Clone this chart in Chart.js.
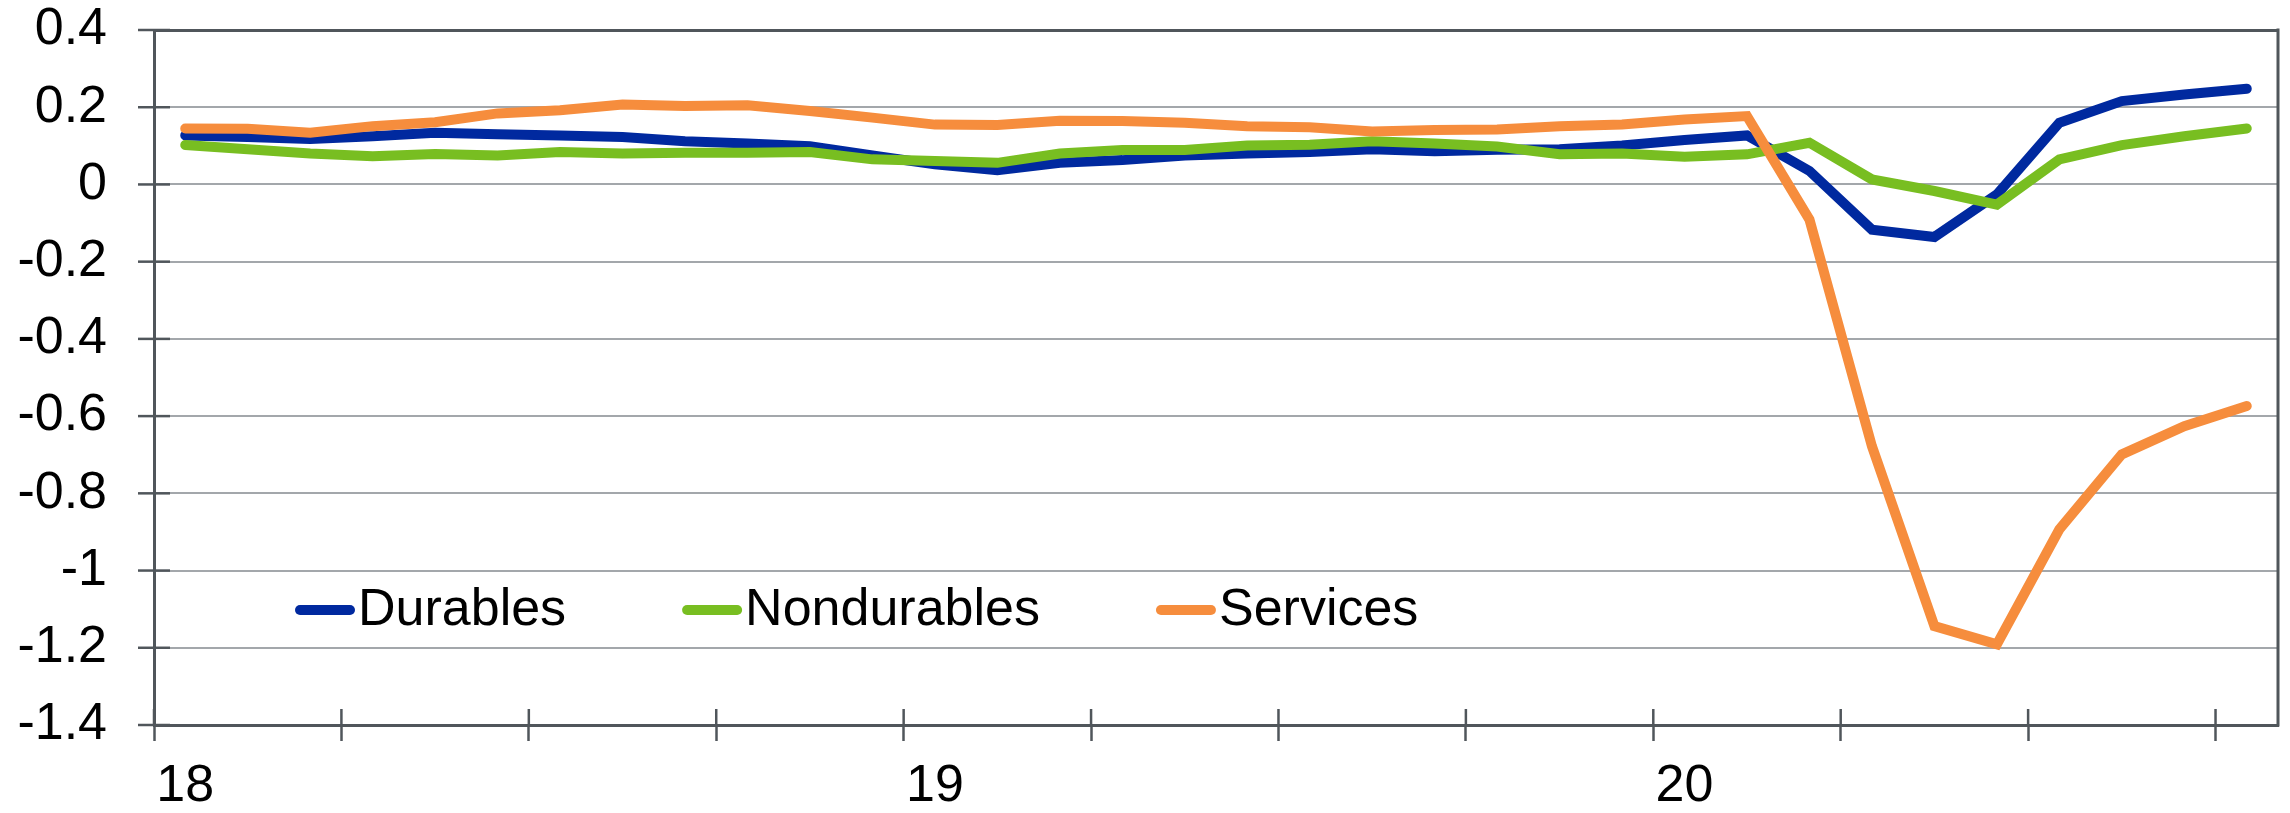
<!DOCTYPE html>
<html>
<head>
<meta charset="utf-8">
<title>Consumer spending by type</title>
<script src="https://cdn.jsdelivr.net/npm/chart.js@4.4.1/dist/chart.umd.min.js"></script>
<style>
  html, body { margin: 0; padding: 0; background: #ffffff; }
  #wrap { width: 2290px; height: 813px; position: relative; }
</style>
</head>
<body>
<div id="wrap"><canvas id="chart" width="2290" height="813"></canvas></div>
<script>
// Monthly observations, Jan 2018 – Oct 2020
const months = [
  'Jan 2018','Feb 2018','Mar 2018','Apr 2018','May 2018','Jun 2018','Jul 2018','Aug 2018','Sep 2018','Oct 2018','Nov 2018','Dec 2018',
  'Jan 2019','Feb 2019','Mar 2019','Apr 2019','May 2019','Jun 2019','Jul 2019','Aug 2019','Sep 2019','Oct 2019','Nov 2019','Dec 2019',
  'Jan 2020','Feb 2020','Mar 2020','Apr 2020','May 2020','Jun 2020','Jul 2020','Aug 2020','Sep 2020','Oct 2020'
];

// Year labels shown under the January of each year
const xTickLabels = [
  '18','','','','','','','','','','','',
  '19','','','','','','','','','','','',
  '20','','','','','','','','',''
];

const durables = [
  0.127, 0.123, 0.118, 0.125, 0.134, 0.130, 0.127, 0.123, 0.112, 0.106, 0.099, 0.075,
  0.052, 0.037, 0.056, 0.063, 0.075, 0.080, 0.084, 0.091, 0.086, 0.090, 0.091, 0.101,
  0.115, 0.127, 0.035, -0.117, -0.136, -0.026, 0.160, 0.216, 0.233, 0.248
];

const nondurables = [
  0.102, 0.091, 0.080, 0.073, 0.079, 0.075, 0.084, 0.080, 0.082, 0.082, 0.084, 0.065,
  0.061, 0.056, 0.080, 0.089, 0.089, 0.101, 0.103, 0.112, 0.106, 0.098, 0.078, 0.080,
  0.072, 0.078, 0.108, 0.013, -0.017, -0.052, 0.065, 0.102, 0.125, 0.145
];

const services = [
  0.145, 0.144, 0.134, 0.151, 0.161, 0.184, 0.192, 0.207, 0.203, 0.205, 0.190, 0.173,
  0.155, 0.154, 0.165, 0.164, 0.160, 0.151, 0.148, 0.137, 0.141, 0.142, 0.151, 0.155,
  0.168, 0.177, -0.091, -0.678, -1.144, -1.191, -0.893, -0.699, -0.626, -0.574
];

const seriesNames = ['Durables', 'Nondurables', 'Services'];
const seriesColors = ['#00299F', '#78BE21', '#F68D3D'];

const AXIS_COLOR = '#50565B';
const GRID_COLOR = '#A3A7AB';
const FONT = '"Liberation Sans", Arial, sans-serif';

// Frame: right border plus tick marks that cross the axes
const framePlugin = {
  id: 'frame',
  beforeDatasetsDraw(chart) {
    const { ctx, chartArea: a, scales } = chart;
    ctx.save();
    ctx.strokeStyle = AXIS_COLOR;
    ctx.lineWidth = 3;
    ctx.beginPath();
    ctx.moveTo(a.right, a.top - 1.5);
    ctx.lineTo(a.right, a.bottom + 1.5);
    ctx.stroke();

    // inner half of the x ticks at quarter boundaries
    const xs = scales.x;
    const step = xs.width / months.length;
    ctx.lineWidth = 2.5;
    for (let i = 0; i < months.length; i += 3) {
      const px = xs.getPixelForTick(i) - step / 2;
      ctx.beginPath();
      ctx.moveTo(px, a.bottom);
      ctx.lineTo(px, a.bottom - 16);
      ctx.stroke();
    }
    // y ticks, crossing the axis line
    const ys = scales.y;
    ys.ticks.forEach((t, i) => {
      const py = ys.getPixelForTick(i);
      ctx.beginPath();
      ctx.moveTo(a.left - 16, py);
      ctx.lineTo(a.left + 16, py);
      ctx.stroke();
    });
    ctx.restore();
  }
};

// Legend drawn inside the plot area, in one row
const insideLegend = {
  id: 'insideLegend',
  afterDraw(chart) {
    const { ctx, chartArea: a } = chart;
    ctx.save();
    ctx.font = '52px ' + FONT;
    ctx.textBaseline = 'alphabetic';
    ctx.textAlign = 'left';
    let x = a.left + 141;
    const lineY = a.top + 580;
    const textBase = a.top + 595;
    chart.data.datasets.forEach((ds) => {
      ctx.strokeStyle = ds.borderColor;
      ctx.lineWidth = 10;
      ctx.lineCap = 'round';
      ctx.beginPath();
      ctx.moveTo(x + 5, lineY);
      ctx.lineTo(x + 55, lineY);
      ctx.stroke();
      ctx.fillStyle = '#000000';
      ctx.fillText(ds.label, x + 63, textBase);
      x += 63 + ctx.measureText(ds.label).width + 116;
    });
    ctx.restore();
  }
};

const makeSet = (i, values, order) => ({
  label: seriesNames[i],
  data: values,
  borderColor: seriesColors[i],
  backgroundColor: seriesColors[i],
  borderWidth: 10,
  pointRadius: 0,
  tension: 0,
  borderCapStyle: 'round',
  borderJoinStyle: 'miter',
  fill: false,
  order: order
});

new Chart(document.getElementById('chart'), {
  type: 'line',
  data: {
    labels: months,
    datasets: [
      makeSet(0, durables, 3),
      makeSet(1, nondurables, 2),
      makeSet(2, services, 1)
    ]
  },
  plugins: [framePlugin, insideLegend],
  options: {
    responsive: false,
    animation: false,
    devicePixelRatio: 1,
    layout: { padding: { top: 30, right: 12, left: 0, bottom: 0 } },
    plugins: {
      legend: { display: false },
      tooltip: { enabled: false },
      title: { display: false }
    },
    scales: {
      x: {
        type: 'category',
        offset: true,
        grid: {
          offset: true,
          drawOnChartArea: false,
          tickLength: 16,
          tickWidth: 2.5,
          tickColor: (c) => (c.index % 3 === 0 && c.index < months.length) ? AXIS_COLOR : 'rgba(0,0,0,0)'
        },
        border: { display: true, color: AXIS_COLOR, width: 3 },
        ticks: {
          autoSkip: false,
          maxRotation: 0,
          minRotation: 0,
          padding: 20,
          color: '#000000',
          font: { family: FONT, size: 52, lineHeight: 1 },
          callback: (v, i) => xTickLabels[i]
        },
        afterFit: (s) => { s.height = 88; }
      },
      y: {
        min: -1.4,
        max: 0.4,
        grid: {
          color: (c) => (c.tick && Math.abs(c.tick.value - 0.4) < 1e-9) ? AXIS_COLOR : GRID_COLOR,
          lineWidth: (c) => (c.tick && Math.abs(c.tick.value - 0.4) < 1e-9) ? 3 : 2,
          tickLength: 47,
          tickColor: 'rgba(0,0,0,0)'
        },
        border: { display: true, color: AXIS_COLOR, width: 3 },
        ticks: {
          stepSize: 0.2,
          padding: 0,
          color: '#000000',
          font: { family: FONT, size: 52, lineHeight: 1 },
          callback: (v) => String(Number(v.toFixed(1)))
        },
        afterFit: (s) => { s.width = 154; }
      }
    }
  }
});
</script>
</body>
</html>
